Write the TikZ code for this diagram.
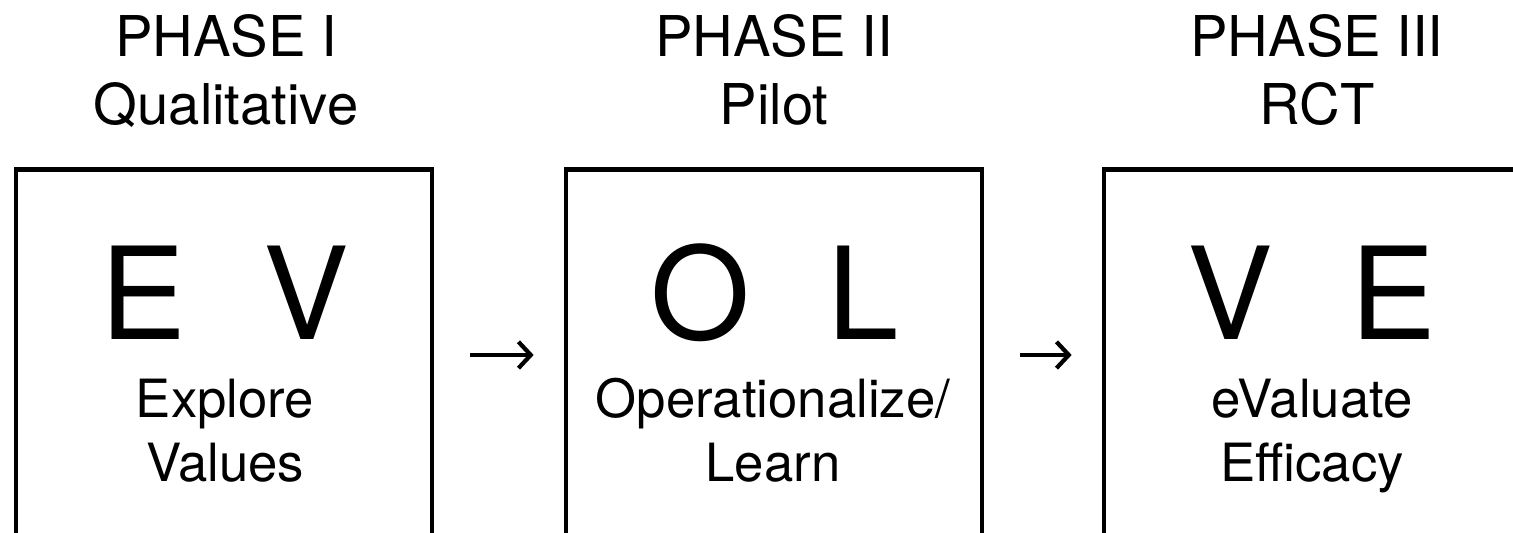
\documentclass[tikz,border=0pt]{standalone}
\usepackage{fontspec}
\setmainfont{TeX Gyre Heros}
\usepackage{tikz}
\usetikzlibrary{arrows.meta,positioning}

\tikzset{
  phasebox/.style={draw, line width=2.6pt, minimum width=237pt, minimum height=211pt, inner sep=0pt},
  head/.style={anchor=base, inner sep=0pt, font=\fontsize{32}{38}\selectfont},
  big/.style={anchor=base, inner sep=0pt, font=\fontsize{73}{80}\selectfont},
  sub/.style={anchor=base, inner sep=0pt, font=\fontsize{30}{36}\selectfont},
  flow/.style={line width=2.4pt, -{Straight Barb[length=7pt,width=15pt,line width=2.4pt]}, shorten <=20pt, shorten >=17pt}
}

\begin{document}
\begin{tikzpicture}[x=0.02cm,y=0.02cm]
    \useasboundingbox (0,0) rectangle (1513,533);
    \clip (0,0) rectangle (1513,533);

    % the three boxes (cut at the bottom and at the right)
    \node[phasebox] (box1) at (224,178) {};
    \node[phasebox] (box2) at (774,178) {};
    \node[phasebox] (box3) at (1312,178) {};
    \draw[flow] (box1) -- (box2);
    \draw[flow] (box2) -- (box3);

    % headings
    \node[head] (ph1) at (226,476) {PHASE I};
    \node[head] (qual) at (226,408) {Qualitative};
    \node[head] (ph2) at (774,476) {PHASE II};
    \node[head] (pilot) at (774,408) {Pilot};
    \node[head] (ph3) at (1317,476) {PHASE III};
    \node[head] (rct) at (1317,408) {RCT};

    % EV
    \node[big] (ev) at (225,193) {E\hspace{0.6em}V};
    \node[sub] (explore) at (225,115) {Explore};
    \node[sub] (values) at (225,51) {Values};
    % OL
    \node[big] (ol) at (775,193) {O\hspace{0.6em}L};
    \node[sub] (oper) at (773,115) {Operationalize/};
    \node[sub] (learn) at (773,51) {Learn};
    % VE
    \node[big] (ve) at (1312,193) {V\hspace{0.6em}E};
    \node[sub] (eval) at (1312,115) {eValuate};
    \node[sub] (effic) at (1312,51) {Efficacy};
\end{tikzpicture}
\end{document}
